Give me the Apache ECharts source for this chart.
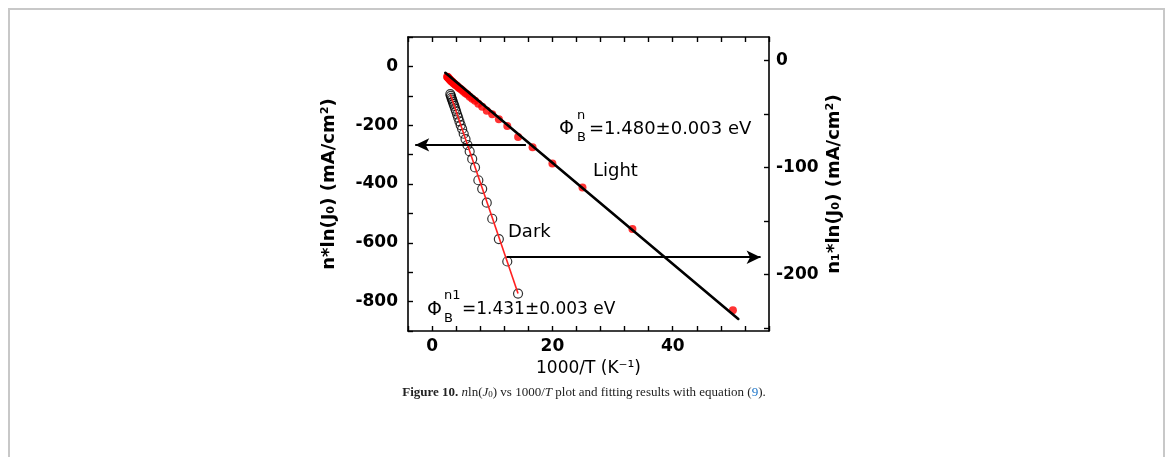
<!DOCTYPE html>
<html>
<head>
<meta charset="utf-8">
<style>
  html, body { margin: 0; padding: 0; background: #fff; }
  #main { width: 1168px; height: 457px; }
</style>
</head>
<body>
<div id="main"></div>
<script src="https://cdn.jsdelivr.net/npm/echarts@6/dist/echarts.min.js"></script>
<script>
// Light: n*ln(J0), left axis (red dots)
var lightX = [2.50, 2.56, 2.63, 2.70, 2.78, 2.86, 2.94, 3.03, 3.13, 3.23, 3.33, 3.45, 3.57, 3.70, 3.85,
              4.00, 4.17, 4.35, 4.55, 4.76, 5.00, 5.26, 5.56, 5.88, 6.25, 6.67, 7.14, 7.69, 8.33, 9.09,
              10.0, 11.1, 12.5, 14.3, 16.7, 20.0, 25.0, 33.3, 50.0];
var lightY = [-35, -36, -37, -39, -41, -43, -44, -47, -48, -51, -52, -54, -57, -59, -62,
              -64, -67, -71, -74, -77, -81, -86, -91, -96, -103, -110, -117, -127, -137, -151,
              -163, -180, -203, -240, -275, -330, -412, -553, -829];
// Dark: n1*ln(J0), right axis (open circles)
var darkX = [3.03, 3.13, 3.23, 3.33, 3.45, 3.57, 3.70, 3.85, 4.00, 4.17, 4.35, 4.55, 4.76, 5.00,
             5.26, 5.56, 5.88, 6.25, 6.67, 7.14, 7.69, 8.33, 9.09, 10.0, 11.1, 12.5, 14.29];
var darkY = [-31.5, -33, -35, -36.5, -38.5, -40.5, -42.5, -45, -47.5, -50.5, -53.5, -57, -60.5, -64,
             -68.5, -73.5, -79, -85, -92, -100, -112, -120, -133, -148, -167, -188, -218];
// fitted lines
var lightFitX = [2.2, 50.9];
var lightFitY = [-22, -859];
var darkFitX = [3.03, 14.29];
var darkFitY = [-31.5, -218];
// arrows pointing to the axis each curve belongs to
var arrowLeft = [[15.6, -267], [-2.8, -267]];
var arrowRight = [[12.4, -184], [54.6, -184]];
// ticks
var xTicks = [-4, 0, 4, 8, 12, 16, 20, 24, 28, 32, 36, 40, 44, 48, 52, 56];
var xLabels = [0, 20, 40];
var leftTicks = [-900, -800, -700, -600, -500, -400, -300, -200, -100, 0, 100];
var leftLabels = [-800, -600, -400, -200, 0];
var rightTicks = [-250, -200, -150, -100, -50, 0];
var rightLabels = [-200, -100, 0];

function zip(a, b) {
    var out = [];
    for (var i = 0; i < a.length; i++) out.push([a[i], b[i]]);
    return out;
}

var chart = echarts.init(document.getElementById('main'));
var FONT = 'DejaVu Sans';
var axLine = { show: true, onZero: false, lineStyle: { color: '#000', width: 1.6 } };
var tickStyle = { color: '#000', width: 1.4 };
var labelStyle = { color: '#000', fontFamily: FONT, fontSize: 17, fontWeight: 'bold' };
var xNameStyle = { color: '#000', fontFamily: FONT, fontSize: 17 };
var yNameStyle = { color: '#000', fontFamily: FONT, fontSize: 18, fontWeight: 'bold' };

var option = {
    animation: false,
    backgroundColor: '#fff',
    grid: { left: 408, right: 399, top: 37, bottom: 126, outerBoundsMode: 'none' },
    xAxis: [
        {
            type: 'value', min: -4, max: 56, position: 'bottom',
            axisLine: axLine,
            axisTick: { show: true, inside: true, length: 5, customValues: xTicks, lineStyle: tickStyle },
            axisLabel: Object.assign({ margin: 7, customValues: xLabels }, labelStyle),
            splitLine: { show: false },
            name: '1000/T (K\u207B\u00B9)', nameLocation: 'middle', nameGap: 25,
            nameTextStyle: xNameStyle
        },
        {
            type: 'value', min: -4, max: 56, position: 'top',
            axisLine: axLine,
            axisTick: { show: true, inside: true, length: 5, customValues: xTicks, lineStyle: tickStyle },
            axisLabel: { show: false },
            splitLine: { show: false }
        }
    ],
    yAxis: [
        {
            type: 'value', min: -900, max: 100, position: 'left',
            axisLine: axLine,
            axisTick: { show: true, inside: true, length: 5, customValues: leftTicks, lineStyle: tickStyle },
            axisLabel: Object.assign({ margin: 10, customValues: leftLabels }, labelStyle),
            splitLine: { show: false },
            name: 'n*ln(J\u2080) (mA/cm\u00B2)', nameLocation: 'middle', nameGap: 70,
            nameTextStyle: yNameStyle
        },
        {
            type: 'value', min: -253, max: 22, position: 'right',
            axisLine: axLine,
            axisTick: { show: true, inside: true, length: 5, customValues: rightTicks, lineStyle: tickStyle },
            axisLabel: Object.assign({ margin: 7, customValues: rightLabels }, labelStyle),
            splitLine: { show: false },
            name: 'n\u2081*ln(J\u2080) (mA/cm\u00B2)', nameLocation: 'middle', nameGap: 56,
            nameTextStyle: yNameStyle
        }
    ],
    series: [
        {
            name: 'Light', type: 'scatter', xAxisIndex: 0, yAxisIndex: 0,
            data: zip(lightX, lightY), symbol: 'circle', symbolSize: 8,
            itemStyle: { color: '#ff0000' }, z: 2
        },
        {
            name: 'Light fit', type: 'line', xAxisIndex: 0, yAxisIndex: 0,
            data: zip(lightFitX, lightFitY), showSymbol: false, symbol: 'none',
            lineStyle: { color: '#000', width: 2.6, cap: 'round' }, z: 3,
            markLine: {
                silent: true, symbol: ['none', 'arrow'], symbolSize: [10, 14],
                label: { show: false },
                lineStyle: { color: '#000', width: 1.8, type: 'solid' },
                data: [[{ coord: arrowLeft[0] }, { coord: arrowLeft[1] }]]
            }
        },
        {
            name: 'Dark', type: 'scatter', xAxisIndex: 0, yAxisIndex: 1,
            data: zip(darkX, darkY), symbol: 'circle', symbolSize: 9,
            itemStyle: { color: 'rgba(255,255,255,0)', borderColor: '#000', borderWidth: 1.2 }, z: 2
        },
        {
            name: 'Dark fit', type: 'line', xAxisIndex: 0, yAxisIndex: 1,
            data: zip(darkFitX, darkFitY), showSymbol: false, symbol: 'none',
            lineStyle: { color: '#ff2020', width: 1.6 }, z: 3,
            markLine: {
                silent: true, symbol: ['none', 'arrow'], symbolSize: [10, 14],
                label: { show: false },
                lineStyle: { color: '#000', width: 1.8, type: 'solid' },
                data: [[{ coord: arrowRight[0] }, { coord: arrowRight[1] }]]
            }
        }
    ],
    graphic: [
        // page frame
        { type: 'rect', shape: { x: 9, y: 9, width: 1155, height: 520 },
          style: { fill: 'none', stroke: '#c8c8c8', lineWidth: 2 }, silent: true },
        // Phi_B^n = 1.480 eV
        { type: 'text', left: 559, top: 120, style: { text: '\u03A6', font: '19px ' + FONT, fill: '#000' } },
        { type: 'text', left: 577, top: 109, style: { text: 'n', font: '13px ' + FONT, fill: '#000' } },
        { type: 'text', left: 577, top: 131, style: { text: 'B', font: '13px ' + FONT, fill: '#000' } },
        { type: 'text', left: 589, top: 120, style: { text: '=1.480\u00B10.003 eV', font: '18px ' + FONT, fill: '#000' } },
        { type: 'text', left: 593, top: 162, style: { text: 'Light', font: '18px ' + FONT, fill: '#000' } },
        { type: 'text', left: 508, top: 223, style: { text: 'Dark', font: '18px ' + FONT, fill: '#000' } },
        // Phi_B^n1 = 1.431 eV
        { type: 'text', left: 427, top: 301, style: { text: '\u03A6', font: '19px ' + FONT, fill: '#000' } },
        { type: 'text', left: 444, top: 289, style: { text: 'n1', font: '13px ' + FONT, fill: '#000' } },
        { type: 'text', left: 444, top: 312, style: { text: 'B', font: '13px ' + FONT, fill: '#000' } },
        { type: 'text', left: 462, top: 301, style: { text: '=1.431\u00B10.003 eV', font: '17px ' + FONT, fill: '#000' } },
        // caption
        {
            type: 'text', left: 'center', top: 386,
            style: {
                text: '{b|Figure 10.} {i|n}ln({i|J}{s|0}) vs 1000/{i|T} plot and fitting results with equation ({c|9}).',
                font: '13px "Liberation Serif"', fill: '#222',
                rich: {
                    b: { fontWeight: 'bold', fontFamily: 'Liberation Serif', fontSize: 13, fill: '#222' },
                    i: { fontStyle: 'italic', fontFamily: 'Liberation Serif', fontSize: 13, fill: '#222' },
                    s: { fontFamily: 'Liberation Serif', fontSize: 9, fill: '#222', verticalAlign: 'bottom', lineHeight: 9 },
                    c: { fontFamily: 'Liberation Serif', fontSize: 13, fill: '#1a73c8' }
                }
            }
        }
    ]
};
chart.setOption(option);
</script>
</body>
</html>
